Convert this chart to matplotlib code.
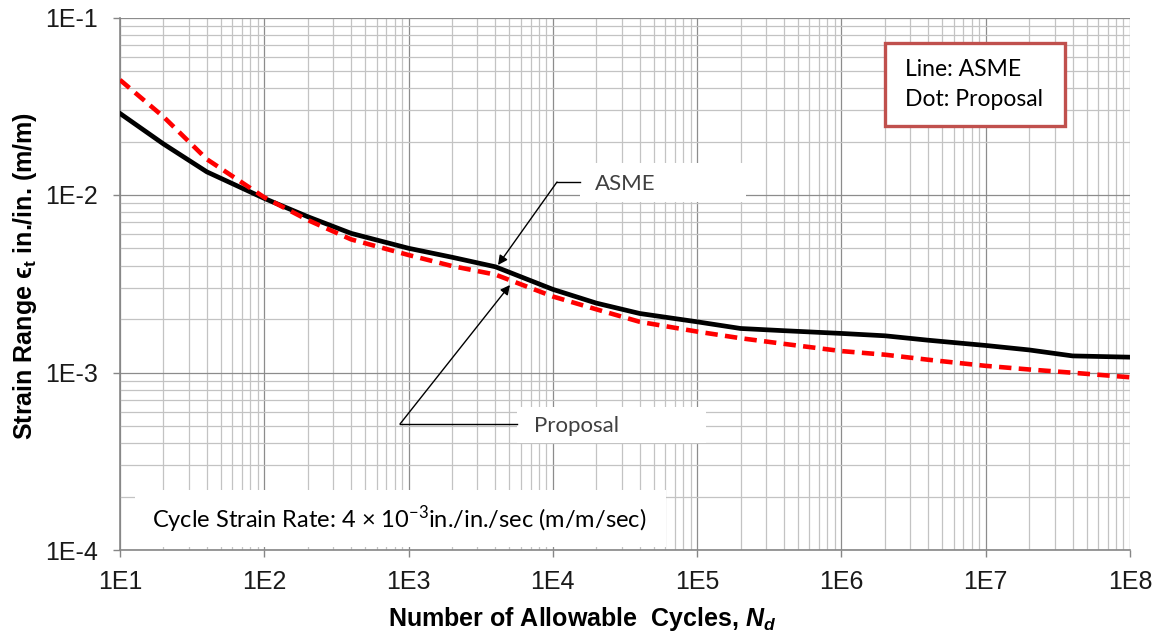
import matplotlib
matplotlib.use("Agg")
import matplotlib.pyplot as plt
from matplotlib.ticker import FixedLocator, FixedFormatter, LogLocator, NullFormatter
from matplotlib.patches import Rectangle

# ---- data ----
cycles = [1e1, 2e1, 4e1, 1e2, 2e2, 4e2, 1e3, 2e3, 4e3, 1e4, 2e4, 4e4,
          1e5, 2e5, 4e5, 1e6, 2e6, 4e6, 1e7, 2e7, 4e7, 1e8]
asme = [0.0288, 0.0194, 0.0135, 0.00957, 0.00755, 0.00608, 0.00501, 0.00446,
        0.00394, 0.00294, 0.00246, 0.00215, 0.00193, 0.00177, 0.00172, 0.00166,
        0.00161, 0.00152, 0.00142, 0.00134, 0.00124, 0.00122]
proposal = [0.0445, 0.0276, 0.0159, 0.0097, 0.00723, 0.00562, 0.00459, 0.00398,
            0.00356, 0.00268, 0.00227, 0.00193, 0.00170, 0.00156, 0.00145, 0.00132,
            0.00126, 0.00118, 0.00109, 0.00104, 0.000997, 0.00094]
xticks = [1e1, 1e2, 1e3, 1e4, 1e5, 1e6, 1e7, 1e8]
xtick_labels = ["1E1", "1E2", "1E3", "1E4", "1E5", "1E6", "1E7", "1E8"]
yticks = [1e-4, 1e-3, 1e-2, 1e-1]
ytick_labels = ["1E-4", "1E-3", "1E-2", "1E-1"]

plt.rcParams["mathtext.fontset"] = "custom"
plt.rcParams["mathtext.bf"] = "Liberation Sans:bold"
plt.rcParams["mathtext.it"] = "Liberation Sans:italic:bold"
plt.rcParams["mathtext.rm"] = "Lato"

W, H = 1161, 638
fig = plt.figure(figsize=(W / 100, H / 100), dpi=100)
L, R, T, B = 120, 1130, 17.5, 550
ax = fig.add_axes([L / W, (H - B) / H, (R - L) / W, (B - T) / H])
ax.set_xscale("log")
ax.set_yscale("log")
ax.set_xlim(xticks[0], xticks[-1])
ax.set_ylim(yticks[0], yticks[-1])

ax.plot(cycles, asme, color="black", lw=3.4, solid_joinstyle="round", zorder=5)
ax.plot(cycles, proposal, color="#ff0000", lw=3.3, dashes=(2.7, 1.6), zorder=6)

ax.xaxis.set_major_locator(FixedLocator(xticks))
ax.xaxis.set_major_formatter(FixedFormatter(xtick_labels))
ax.yaxis.set_major_locator(FixedLocator(yticks))
ax.yaxis.set_major_formatter(FixedFormatter(ytick_labels))
ax.xaxis.set_minor_locator(LogLocator(base=10, subs=range(2, 10), numticks=20))
ax.yaxis.set_minor_locator(LogLocator(base=10, subs=range(2, 10), numticks=20))
ax.xaxis.set_minor_formatter(NullFormatter())
ax.yaxis.set_minor_formatter(NullFormatter())

ax.set_axisbelow(True)
ax.grid(which="major", color="#8c8c8c", lw=0.9)
ax.grid(which="minor", color="#c3c3c3", lw=0.9)
for s in ("top", "right"):
    ax.spines[s].set_visible(False)
for s in ("left", "bottom"):
    ax.spines[s].set_color("#868686")
    ax.spines[s].set_linewidth(1.2)

tick_font = ["Liberation Sans", "DejaVu Sans"]
ax.tick_params(which="major", length=5, width=1, color="#868686", labelsize=18,
               labelcolor="#1a1a1a")
ax.tick_params(axis="x", which="major", pad=9.5)
ax.tick_params(axis="y", which="major", pad=11)
ax.tick_params(which="minor", length=0)
for lab in ax.get_xticklabels() + ax.get_yticklabels():
    lab.set_fontfamily(tick_font)

ax.set_xlabel("Number of Allowable  Cycles, $N_d$", fontsize=18, fontweight="bold",
              fontfamily=tick_font)
ax.xaxis.set_label_coords((582 - L) / (R - L), (B - 626) / (B - T))
ax.xaxis.label.set_va("baseline")
ax.set_ylabel("Strain Range ϵ$_\\mathbf{t}$ in./in. (m/m)", fontsize=18, fontweight="bold",
              fontfamily=tick_font)
ax.yaxis.set_label_coords((25 - L) / (R - L), (B - 276) / (B - T))
ax.yaxis.label.set_va("center")


def fx(px):
    return (px - L) / (R - L)


def fy(py):
    return (B - py) / (B - T)


def white_box(x0, y0, x1, y1, **kw):
    ax.add_patch(Rectangle((fx(x0), fy(y1)), fx(x1) - fx(x0), fy(y0) - fy(y1),
                           transform=ax.transAxes, facecolor="white", zorder=3, **kw))


note_font = ["Lato", "DejaVu Sans"]

# label boxes
white_box(580, 163, 746, 202, edgecolor="none")
ax.text(fx(595), fy(184), "ASME", transform=ax.transAxes, fontsize=16, color="#404040",
        fontfamily=note_font, ha="left", va="center", zorder=4)
white_box(517, 407, 706, 443, edgecolor="none")
ax.text(fx(534), fy(426), "Proposal", transform=ax.transAxes, fontsize=16, color="#404040",
        fontfamily=note_font, ha="left", va="center", zorder=4)
white_box(135, 490, 666, 547, edgecolor="none")
ax.text(fx(152), fy(519), "Cycle Strain Rate: 4 × 10$^{-3}$in./in./sec (m/m/sec)",
        transform=ax.transAxes, fontsize=17, color="black", fontfamily=note_font,
        ha="left", va="center", zorder=4)
white_box(885, 43, 1065, 126, edgecolor="#c0504d", linewidth=2.4)
ax.text(fx(905), fy(70), "Line: ASME", transform=ax.transAxes, fontsize=16.5, color="black",
        fontfamily=note_font, ha="left", va="center", zorder=4)
ax.text(fx(905), fy(100), "Dot: Proposal", transform=ax.transAxes, fontsize=16.5, color="black",
        fontfamily=note_font, ha="left", va="center", zorder=4)

# leader lines
ax.plot([fx(580), fx(557)], [fy(182), fy(182)], transform=ax.transAxes, color="black",
        lw=1.0, zorder=4)
ax.annotate("", xy=(fx(498), fy(265)), xytext=(fx(557), fy(182)),
            xycoords="axes fraction", textcoords="axes fraction",
            arrowprops=dict(arrowstyle="-|>", color="black", lw=1.0, mutation_scale=14,
                            shrinkA=0, shrinkB=0), zorder=7)
ax.plot([fx(517), fx(400)], [fy(424), fy(424)], transform=ax.transAxes, color="black",
        lw=1.0, zorder=4)
ax.annotate("", xy=(fx(510), fy(285)), xytext=(fx(400), fy(424)),
            xycoords="axes fraction", textcoords="axes fraction",
            arrowprops=dict(arrowstyle="-|>", color="black", lw=1.0, mutation_scale=14,
                            shrinkA=0, shrinkB=0), zorder=7)

fig.savefig("out.png", dpi=100)
